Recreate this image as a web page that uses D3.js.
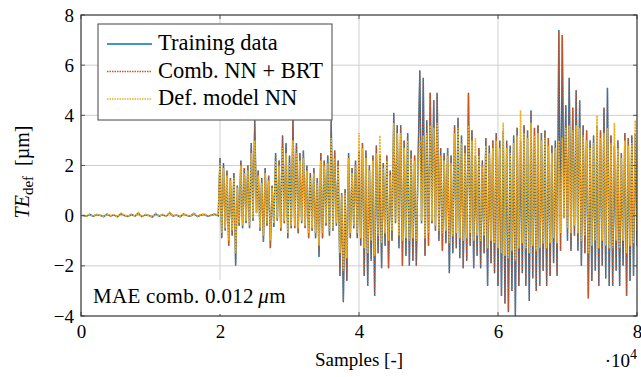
<!DOCTYPE html>
<html>
<head>
<meta charset="utf-8">
<script src="https://cdn.jsdelivr.net/npm/d3@7"></script>
<style>
  body { margin: 0; background: #fff; }
</style>
</head>
<body>
<div id="chart"></div>
<script>
// data: samples 250..19750 every 500 (steady part), 20000..80000 every 250 (excited part)
const flatSamples = d3.range(250, 20000, 500)
const activeSamples = d3.range(20000, 80001, 250)

const trainingFlat = [0.02,-0.03,0.05,-0.02,0.04,0.01,-0.04,0.06,-0.01,0.03,-0.05,0.08,0.0,-0.03,0.05,-0.02,0.1,-0.04,0.03,0.01,
  -0.06,0.07,-0.02,0.04,-0.03,0.12,-0.01,0.02,-0.05,0.06,0.0,-0.02,0.09,-0.04,0.03,0.05,-0.03,0.02,0.06,-0.01]
const combFlat = [0.01,-0.02,0.05,-0.03,0.04,0.02,-0.03,0.05,-0.02,0.03,-0.04,0.07,0.01,-0.03,0.04,-0.02,0.09,-0.03,0.03,0.0,
  -0.05,0.07,-0.02,0.03,-0.02,0.11,-0.01,0.03,-0.04,0.06,0.01,-0.02,0.08,-0.03,0.02,0.05,-0.02,0.02,0.05,0.0]
const defNNFlat = [0.03,-0.02,0.06,-0.01,0.05,0.02,-0.03,0.07,0.0,0.04,-0.04,0.1,0.02,-0.02,0.06,-0.01,0.12,-0.03,0.05,0.02,
  -0.04,0.09,-0.01,0.06,-0.02,0.14,0.0,0.04,-0.03,0.08,0.02,-0.01,0.11,-0.02,0.05,0.07,-0.01,0.04,0.08,0.01]

const trainingActive = [
  2.3,-0.9,2.1,-0.6, 1.8,-1.2,1.5,-0.8,1.7,-2.0,1.2, -0.4,2.2,-0.5,1.9,-0.3,2.0, -0.5,2.9,-0.2,3.8,0.1,
  1.8,-0.6,1.5,-1.05,1.9,-0.4,1.6,-1.3,1.2, -0.45,2.5,-0.2,2.2,-0.6,3.2,-0.3,2.9,-0.9,2.4,-0.5, 3.8,
  -0.5,2.9,-0.7,2.5,-0.3,2.6,-0.5, 2.0,-0.9,1.7,-0.6,1.9,-0.9,1.5, -1.65, 2.5,-0.9,2.2,-0.4,2.4,-0.8, 3.8,
  -0.6,2.6,-0.4,2.2, -2.4,0.9,-3.45,1.05,-2.6, 2.5,-0.9,1.9,-0.5,2.2,-0.9,2.6, -1.2, 2.9,-2.4, 2.6,-2.8,2.0,
  -1.8,2.4,-3.2,2.8, -1.5,2.4,-2.1,2.1,-1.2,2.4,-2.1,1.8,-1.0, 4.1,-0.3,3.6, -1.3, 3.6,-2.0,3.0,-1.6,3.3,
  -2.0,2.6,-1.8,2.4,-2.0, 2.2, 5.8,-0.3,5.5, -1.6,3.8,-1.2, 4.9,-0.3,4.6,-0.6,4.9,
  -1.0,2.7,-1.4,2.5,-1.1,2.7,-2.3,2.4, -1.5,3.6,-1.3,3.9,-1.7,3.2, -2.1,2.8,-1.8,4.9,-1.2,3.4,
  -2.1,2.4,-1.6,2.7,-2.1,2.2,-1.5, 3.1,-2.8,2.8,-1.9,3.0,-2.3, 3.3,-2.8,3.0,-3.2, 3.4,-3.5,3.0,-3.85,2.8,-3.0,3.2,
  -4.0, 3.5,-2.8,3.0,-2.3,3.6, -2.8,3.4,-3.4,4.2,-2.5,3.5,-3.0, 3.6,-2.8,3.3,-2.2,3.4,-2.8, 3.1,-2.4,2.8,-1.9,3.0,-2.4,
  7.4,-1.4,7.2, -0.1,4.4,-1.0,5.5, -1.4,4.3,-0.8,5.0,-1.4,4.6, -2.0,3.6,-1.5,3.4, -3.3,3.0,-2.6,3.2,-2.2,3.6,
  -2.8,3.4,-2.0,4.3,-2.5,5.1,-2.8, 3.2,-2.8,2.8,-2.2,3.0,-2.8,2.5,-2.0, 3.3,-3.2,3.1,-2.6,3.2,-2.4,3.3, -1.2]

const combActive = [
  2.3,-0.85,2.1,-0.6, 1.8,-1.2,1.5,-0.8,1.7,-1.95,1.2, -0.4,2.2,-0.5,1.9,-0.3,2.0, -0.5,2.9,-0.2,3.75,0.1,
  1.8,-0.6,1.5,-1.05,1.9,-0.4,1.6,-1.3,1.2, -0.45,2.5,-0.2,2.2,-0.6,3.2,-0.3,2.85,-0.9,2.4,-0.5, 3.8,
  -0.5,2.9,-0.7,2.5,-0.3,2.6,-0.5, 2.0,-0.9,1.7,-0.6,1.9,-0.9,1.5, -1.6, 2.5,-0.9,2.2,-0.4,2.4,-0.8, 3.75,
  -0.6,2.6,-0.4,2.2, -2.4,0.9,-3.4,1.05,-2.6, 2.5,-0.9,1.9,-0.5,2.2,-0.9,2.6, -1.2, 2.9,-2.4, 2.6,-2.8,2.0,
  -1.8,2.4,-3.2,2.8, -1.5,2.4,-2.1,2.1,-1.2,2.4,-2.1,1.8,-1.0, 4.05,-0.3,3.6, -1.3, 3.6,-2.0,3.0,-1.6,3.3,
  -2.0,2.6,-1.8,2.4,-2.0, 2.2, 5.75,-0.3,5.5, -1.6,3.8,-1.2, 4.9,-0.3,4.6,-0.6,4.9,
  -1.0,2.7,-1.4,2.5,-1.1,2.7,-2.3,2.4, -1.5,3.6,-1.3,3.9,-1.7,3.2, -2.1,2.8,-1.8,4.85,-1.2,3.4,
  -2.1,2.4,-1.6,2.7,-2.1,2.2,-1.5, 3.1,-2.8,2.8,-1.9,3.0,-2.3, 3.3,-2.8,3.0,-3.2, 3.4,-3.5,3.0,-3.8,2.8,-3.0,3.2,
  -3.95, 3.5,-2.8,3.0,-2.3,3.6, -2.8,3.4,-3.4,4.2,-2.5,3.5,-3.0, 3.6,-2.8,3.3,-2.2,3.4,-2.8, 3.1,-2.4,2.8,-1.9,3.0,-2.4,
  7.35,-1.4,7.2, -0.1,4.4,-1.0,5.5, -1.4,4.3,-0.8,5.0,-1.4,4.6, -2.0,3.6,-1.5,3.4, -3.3,3.0,-2.6,3.2,-2.2,3.6,
  -2.8,3.4,-2.0,4.3,-2.5,5.1,-2.8, 3.2,-2.8,2.8,-2.2,3.0,-2.8,2.5,-2.0, 3.3,-3.2,3.1,-2.6,3.2,-2.4,3.3, -1.2]

const defNNActive = [
  2.1,-0.7,1.9,-0.5, 1.6,-1.0,1.4,-0.6,1.5,-1.5,1.1, -0.3,2.0,-0.4,1.7,-0.2,1.8, -0.4,2.5,-0.1,3.0,0.1,
  1.6,-0.5,1.3,-0.8,1.7,-0.3,1.4,-1.0,1.1, -0.3,2.2,-0.1,2.0,-0.5,2.7,-0.2,2.5,-0.7,2.1,-0.4, 3.0,
  -0.4,2.5,-0.5,2.2,-0.2,2.3,-0.4, 1.8,-0.7,1.5,-0.5,1.7,-0.7,1.3, -1.2, 2.2,-0.7,2.0,-0.3,2.1,-0.6, 3.1,
  -0.5,2.3,-0.3,2.0, -1.5,0.8,-2.2,0.9,-1.7, 2.3,-0.7,1.7,-0.4,2.0,-0.7,3.3, -0.9, 2.7,-1.3, 2.3,-1.5,1.8,
  -1.0,2.2,-1.6,2.5, -0.8,3.2,-1.1,1.9,-0.7,2.2,-1.0,1.6,-0.6, 3.7,-0.2,3.3, -0.8, 3.3,-1.0,2.7,-0.9,3.0,
  -1.0,2.3,-0.9,2.2,-1.0, 2.0, 3.0,-0.2,3.2, -0.9,3.3,-0.7, 3.6,-0.2,3.5,-0.4,3.7,
  -0.6,2.4,-0.7,2.2,-0.6,2.4,-1.1,2.1, -0.8,3.3,-0.7,3.5,-0.9,2.9, -1.0,2.5,-0.9,3.6,-0.7,3.0,
  -1.0,3.1,-0.8,2.4,-1.0,2.0,-0.8, 2.8,-1.3,2.5,-1.0,2.7,-1.1, 3.0,-1.3,2.7,-1.5, 3.7,-1.6,2.7,-1.7,2.5,-1.4,2.9,
  -1.8, 3.2,-1.3,4.2,-1.1,3.3, -1.3,3.1,-1.5,3.7,-1.2,3.2,-1.4, 3.3,-1.3,3.0,-1.1,3.1,-1.3, 2.8,-1.1,2.5,-0.9,2.7,-1.1,
  3.0,-0.7,3.1, -0.1,3.5,-0.5,3.6, -0.7,3.4,-0.4,3.6,-0.7,3.5, -1.0,3.2,-0.8,3.0, -1.5,2.7,-1.2,2.9,-1.0,4.0,
  -1.3,3.1,-1.0,3.3,-1.2,3.5,-1.3, 2.9,-1.3,3.7,-1.0,2.7,-1.3,2.3,-1.0, 3.0,-1.5,2.8,-1.2,2.9,-1.1,3.8, -0.6]

const xTicks = [0, 20000, 40000, 60000, 80000]
const yTicks = [-4, -2, 0, 2, 4, 6, 8]
const legendLabels = ["Training data", "Comb. NN + BRT", "Def. model NN"]
const colors = ["#0072bd", "#d95319", "#edb120"]
const serif = '"Liberation Serif"'

// Constantes:
const width = 641
const height = 377
const margins = { top: 15, left: 81, right: 4, bottom: 61 }
const eWidth = width - margins.left - margins.right
const eHeight = height - margins.top - margins.bottom

const toPoints = (xs, ys) => xs.map((s, i) => ({ s: s, v: ys[i] }))
const allSamples = flatSamples.concat(activeSamples)
const series = [
  toPoints(allSamples, trainingFlat.concat(trainingActive)),
  toPoints(allSamples, combFlat.concat(combActive)),
  toPoints(allSamples, defNNFlat.concat(defNNActive))
]

let svg = d3.select('div#chart').append('svg').attr('width', width).attr('height', height)
  .attr('font-family', serif)
let g = svg.append('g').attr('transform', `translate(${margins.left}, ${margins.top})`)

// escalas:
let x = d3.scaleLinear().domain([0, 80000]).range([0, eWidth])
let y = d3.scaleLinear().domain([-4, 8]).range([eHeight, 0])

// grid
let grid = g.append('g').attr('stroke', '#cfcfcf').attr('stroke-width', 1)
xTicks.slice(1, -1).forEach(t => grid.append('line')
  .attr('x1', x(t)).attr('x2', x(t)).attr('y1', 0).attr('y2', eHeight))
yTicks.slice(1, -1).forEach(t => grid.append('line')
  .attr('x1', 0).attr('x2', eWidth).attr('y1', y(t)).attr('y2', y(t)))

// lines
svg.append('clipPath').attr('id', 'clip').append('rect').attr('width', eWidth).attr('height', eHeight)
let line = d3.line().x(d => x(d.s)).y(d => y(d.v))
let lines = g.append('g').attr('clip-path', 'url(#clip)')
lines.append('path').datum(series[0]).attr('d', line).attr('fill', 'none')
  .attr('stroke', colors[0]).attr('stroke-width', 1.4)
lines.append('path').datum(series[1]).attr('d', line).attr('fill', 'none')
  .attr('stroke', colors[1]).attr('stroke-width', 1.3).attr('stroke-dasharray', '1.5,1.5')
lines.append('path').datum(series[2]).attr('d', line).attr('fill', 'none')
  .attr('stroke', colors[2]).attr('stroke-width', 1.6).attr('stroke-dasharray', '2,1')

// ejes:
let fmt = d3.format('d')
let xAxis = d3.axisBottom(x).tickValues(xTicks).tickSize(0).tickPadding(9).tickFormat(d => fmt(d / 10000))
let yAxis = d3.axisLeft(y).tickValues(yTicks).tickSize(0).tickPadding(7).tickFormat(fmt)
let xg = g.append('g').attr('transform', `translate(0, ${eHeight})`).call(xAxis)
let yg = g.append('g').call(yAxis)
;[xg, yg].forEach(a => {
  a.attr('font-family', serif).attr('font-size', 19)
  a.select('.domain').remove()
  a.selectAll('text').attr('fill', '#000')
})

// inward ticks on all sides
let ticks = g.append('g').attr('stroke', '#555').attr('stroke-width', 1)
xTicks.forEach(t => {
  ticks.append('line').attr('x1', x(t)).attr('x2', x(t)).attr('y1', eHeight).attr('y2', eHeight - 4)
  ticks.append('line').attr('x1', x(t)).attr('x2', x(t)).attr('y1', 0).attr('y2', 4)
})
yTicks.forEach(t => {
  ticks.append('line').attr('x1', 0).attr('x2', 4).attr('y1', y(t)).attr('y2', y(t))
  ticks.append('line').attr('x1', eWidth).attr('x2', eWidth - 4).attr('y1', y(t)).attr('y2', y(t))
})

// MAE note (white box)
g.append('rect').attr('x', 3).attr('y', 265).attr('width', 218).attr('height', 34).attr('fill', '#fff')
let mae = g.append('text').attr('x', 12).attr('y', 288).attr('font-size', 21).attr('letter-spacing', 0.3)
mae.append('tspan').text('MAE comb. 0.012\u2009')
mae.append('tspan').attr('font-style', 'italic').text('\u03bc')
mae.append('tspan').text('m')

// frame
g.append('rect').attr('width', eWidth).attr('height', eHeight).attr('fill', 'none')
  .attr('stroke', '#333').attr('stroke-width', 1.2)

// legend
let legend = g.append('g').attr('transform', 'translate(17, 9)')
legend.append('rect').attr('width', 234).attr('height', 96).attr('fill', '#fff')
  .attr('stroke', '#444').attr('stroke-width', 1)
legendLabels.forEach((l, i) => {
  let yy = 20 + i * 27.5
  legend.append('line').attr('x1', 9).attr('x2', 54).attr('y1', yy).attr('y2', yy)
    .attr('stroke', colors[i]).attr('stroke-width', i === 0 ? 1.4 : 1.3)
    .attr('stroke-dasharray', i === 0 ? null : '1.5,1')
  legend.append('text').attr('x', 60).attr('y', yy + 6).attr('font-size', 22.5).text(l)
})

// axis labels
svg.append('text').attr('x', margins.left + eWidth / 2).attr('y', 366).attr('text-anchor', 'middle')
  .attr('font-size', 19).text('Samples [-]')
let mult = svg.append('text').attr('x', 637).attr('y', 367).attr('text-anchor', 'end').attr('font-size', 19)
mult.append('tspan').text('\u00b710')
mult.append('tspan').attr('font-size', 14).attr('dy', -8).text('4')

let yl = svg.append('text').attr('transform', `translate(29, 172) rotate(-90)`)
  .attr('text-anchor', 'middle').attr('font-size', 20)
yl.append('tspan').attr('font-style', 'italic').text('TE')
yl.append('tspan').attr('font-size', 15).attr('dy', 4).text('def')
yl.append('tspan').attr('dy', -4).text('\u2002[\u00b5m]')
</script>
</body>
</html>
